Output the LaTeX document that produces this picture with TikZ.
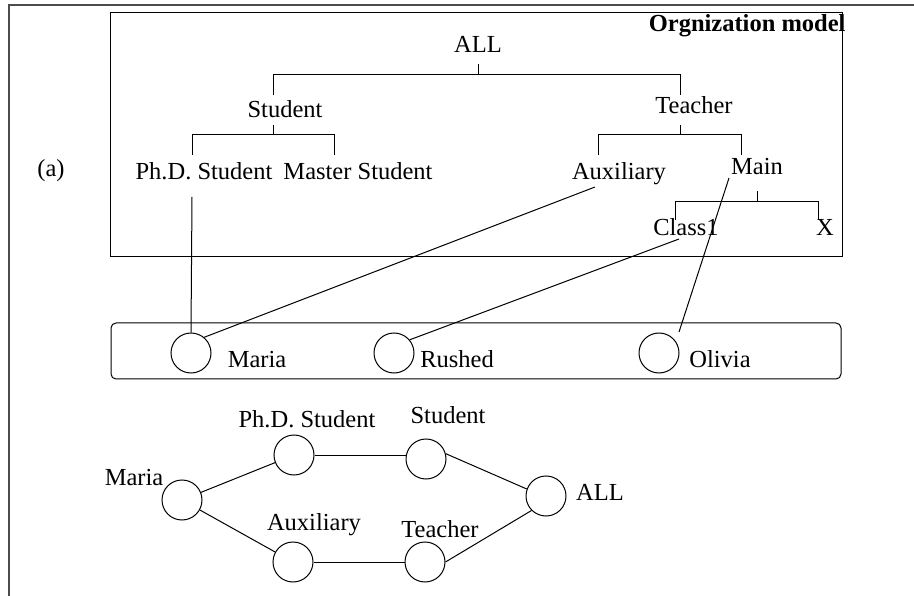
\documentclass[tikz,border=0pt]{standalone}
\usepackage{fontspec}
\setmainfont{Liberation Serif}
\begin{document}
\begin{tikzpicture}[x=1pt,y=-1pt, line width=1pt,
  lbl/.style={inner sep=0pt, anchor=base, font=\fontsize{24.5}{28}\selectfont},
  circ/.style={draw, circle, minimum size=40pt, inner sep=0pt},
  frame/.style={draw=black!70, line width=2pt},
]
\useasboundingbox (0,0) rectangle (914,596);
% outer frame
\draw[frame] (9,596) -- (9,5) -- (914,5);
% organisation box
\draw (110,13) rectangle (842,257);
\node[lbl, anchor=base east, font=\bfseries\fontsize{24.5}{28}\selectfont] (title) at (846,32) {Orgnization model};
\node[lbl] (labA) at (51,177) {(a)};
% tree labels
\node[lbl] (tAll) at (478,53) {ALL};
\node[lbl] (tStudent) at (285,118) {Student};
\node[lbl] (tTeacher) at (694,114) {Teacher};
\node[lbl] (tPhd) at (204,180) {Ph.D. Student};
\node[lbl] (tMaster) at (358,180) {Master Student};
\node[lbl] (tAux) at (619,180) {Auxiliary};
\node[lbl] (tMain) at (757,175) {Main};
\node[lbl] (tClass) at (686,236) {Class1};
\node[lbl] (tX) at (825,236) {X};
% tree brackets
\draw (478,64) -- (478,75);
\draw (273,95) -- (273,75) -- (680,75) -- (680,95);
\draw (273,125) -- (273,135);
\draw (192,155) -- (192,135) -- (334,135) -- (334,155);
\draw (680,125) -- (680,135);
\draw (598,155) -- (598,135) -- (741,135) -- (741,155);
\draw (757,191) -- (757,202);
\draw (675,220) -- (675,202) -- (818,202) -- (818,220);
% individuals band
\draw[rounded corners=5pt] (111,323) rectangle (841,379);
\node[circ] (cMaria) at (191,353) {};
\node[circ] (cRushed) at (394,353) {};
\node[circ] (cOlivia) at (659,353) {};
\node[lbl] (lMaria) at (257,368) {Maria};
\node[lbl] (lRushed) at (457,368) {Rushed};
\node[lbl] (lOlivia) at (720,368) {Olivia};
% assignment lines
\coordinate (pPhd) at (192,197);
\coordinate (pAux) at (595,187);
\coordinate (pClass) at (679,239);
\coordinate (pMain) at (729,178);
\coordinate (pOlivia) at (679,332);
\draw (pPhd) -- (cMaria.north);
\draw (pAux) -- (cMaria.50);
\draw (pClass) -- (cRushed.40);
\draw (pMain) -- (pOlivia);
% lower graph
\node[circ] (gMaria) at (182,500) {};
\node[circ] (gPhd) at (294,455) {};
\node[circ] (gStudent) at (426,459) {};
\node[circ] (gAll) at (546,496) {};
\node[circ] (gAux) at (293,562) {};
\node[circ] (gTeacher) at (425,562) {};
\node[lbl] (glMaria) at (134,485) {Maria};
\node[lbl] (glPhd) at (307,428) {Ph.D. Student};
\node[lbl] (glStudent) at (448,424) {Student};
\node[lbl] (glAll) at (600,500) {ALL};
\node[lbl] (glAux) at (314,530) {Auxiliary};
\node[lbl] (glTeacher) at (440,537) {Teacher};
\draw (gMaria) -- (gPhd);
\draw (gPhd.east) -- (gStudent.west |- gPhd.east);
\draw (gStudent.15) -- (gAll.160);
\draw (gMaria) -- (gAux);
\draw (gAux.east) -- (gTeacher.west);
\draw (gTeacher.east) -- (gAll.south west);
\end{tikzpicture}
\end{document}
